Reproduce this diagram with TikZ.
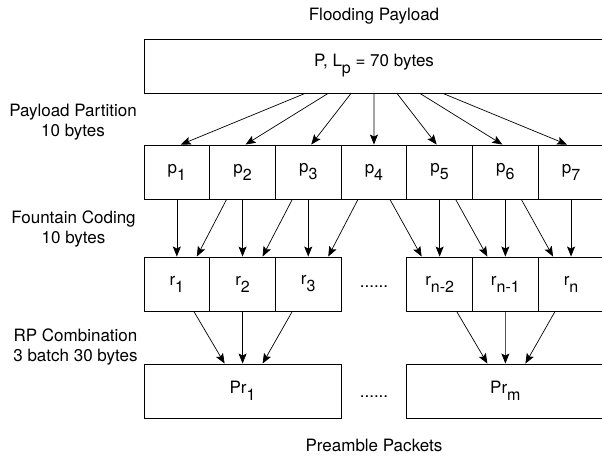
\documentclass[tikz,border=0pt]{standalone}
\usepackage{fontspec}
\setmainfont{TeX Gyre Heros}
\usetikzlibrary{arrows.meta}
\newcommand{\lowsub}[1]{\raisebox{-7pt}{\fontsize{16}{16}\selectfont #1}}

\begin{document}
\begin{tikzpicture}[x=1pt,y=-1pt,
  box/.style={draw,line width=0.9pt,minimum height=54pt,inner sep=0pt,font=\fontsize{17}{20}\selectfont},
  lbl/.style={align=center,inner sep=0pt,font=\fontsize{17}{20}\selectfont},
  arr/.style={-{Stealth[length=10pt,width=8pt,inset=2pt]},line width=0.7pt}]
  \useasboundingbox (0,0) rectangle (602,460);
  % boxes
  \node[box,minimum width=460pt] (flood) at (374,66) {P, L\lowsub{p} = 70 bytes};
  \foreach \i in {1,...,7}
    \node[box,minimum width=65.7pt] (p\i) at ({144+65.7*(\i-0.5)},172) {p\lowsub{\i}};
  \foreach \i/\t in {1/1,2/2,3/3,5/n-2,6/n-1,7/n}
    \node[box,minimum width=65.7pt] (r\i) at ({144+65.7*(\i-0.5)},284) {r\lowsub{\t}};
  \node[lbl] (rdots) at (374,287) {......};
  \node[box,minimum width=197pt] (pr1) at (242.6,391) {Pr\lowsub{1}};
  \node[box,minimum width=197pt] (prm) at (505.4,391) {Pr\lowsub{m}};
  \node[lbl] (prdots) at (374,397) {......};
  % labels
  \node[lbl] (ttl) at (374,16) {Flooding Payload};
  \node[lbl] (part) at (73,122) {Payload Partition\\10 bytes};
  \node[lbl] (fount) at (73.5,229) {Fountain Coding\\10 bytes};
  \node[lbl] (comb) at (75.5,347) {RP Combination\\3 batch 30 bytes};
  \node[lbl] (pre) at (374,445) {Preamble Packets};
  % partition
  \foreach \i/\d in {1/4,2/3,3/3,4/0,5/-3,6/-3,7/-4}
    \draw[arr] ([xshift={(\i-4)*23pt}]flood.south) -- ([xshift=\d pt]p\i.north);
  % fountain coding
  \foreach \i in {1,2,3,5,6,7}
    \draw[arr] (p\i) -- (r\i);
  \foreach \a/\b in {2/1,3/2,4/3}
    \draw[arr] ([xshift=-16pt]p\a.south) -- ([xshift=20pt]r\b.north);
  \foreach \a/\b in {4/5,5/6,6/7}
    \draw[arr] ([xshift=16pt]p\a.south) -- ([xshift=-18pt]r\b.north);
  % combination
  \draw[arr] ([xshift=17pt]r1.south) -- ([xshift=-18pt]pr1.north);
  \draw[arr] (r2) -- (pr1);
  \draw[arr] ([xshift=-16pt]r3.south) -- ([xshift=20pt]pr1.north);
  \draw[arr] ([xshift=17pt]r5.south) -- ([xshift=-18pt]prm.north);
  \draw[arr] (r6) -- (prm);
  \draw[arr] ([xshift=-16pt]r7.south) -- ([xshift=20pt]prm.north);
\end{tikzpicture}
\end{document}
